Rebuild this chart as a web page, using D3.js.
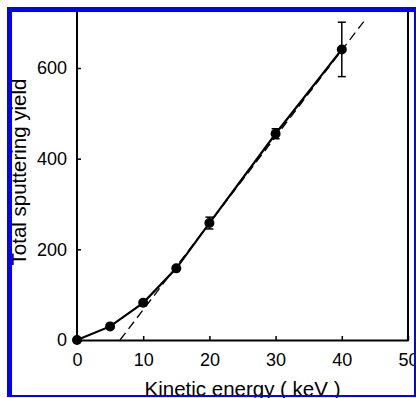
<!DOCTYPE html>
<html>
<head>
<meta charset="utf-8">
<script src="https://cdn.jsdelivr.net/npm/d3@7"></script>
<style>
  body { margin: 0; background: #fff; }
  svg { display: block; }
  text { font-family: "Liberation Sans", Arial, sans-serif; fill: #000; }
</style>
</head>
<body>
<div id="chart"></div>
<script>
// measured values
const energy = [0, 5, 10, 15, 20, 30, 40];
const yieldVals = [0, 30, 82, 158, 258, 455, 641];
const yieldErr = [0, 0, 0, 0, 13, 11, 60];
const fitLine = [[6.5, 0], [43.5, 706]];
const xTicks = [0, 10, 20, 30, 40, 50];
const yTicks = [0, 200, 400, 600];

function drawChart() {
    const width = 416;
    const height = 398;
    const margin = {top: 12, right: 8, bottom: 58, left: 77};

    const svg = d3.select("#chart")
                  .append("svg")
                  .attr("width", width)
                  .attr("height", height);

    const x = d3.scaleLinear()
                .domain([0, 50])
                .range([margin.left, width - margin.right]);
    const y = d3.scaleLinear()
                .domain([0, 600])
                .range([height - margin.bottom, 68]);
    const yBottom = y(0);

    // x axis
    const xAxis = svg.append("g")
       .attr("transform", "translate(0," + yBottom + ")")
       .call(d3.axisBottom(x).tickValues(xTicks).tickSizeInner(-4).tickSizeOuter(0).tickPadding(13));
    xAxis.select(".domain").attr("stroke-width", 2);
    xAxis.selectAll(".tick line").attr("stroke-width", 1.5);
    xAxis.selectAll("text").style("font-size", "18px").attr("font-family", null);

    // y axis
    const yAxis = svg.append("g")
       .attr("transform", "translate(" + margin.left + ",0)")
       .call(d3.axisLeft(y).tickValues(yTicks).tickSizeInner(-4).tickSizeOuter(0).tickPadding(10));
    yAxis.select(".domain").remove();
    yAxis.selectAll(".tick line").attr("stroke-width", 1.5);
    yAxis.selectAll("text").style("font-size", "18px").attr("font-family", null);

    svg.append("line")
       .attr("x1", margin.left).attr("x2", margin.left)
       .attr("y1", margin.top).attr("y2", yBottom + 1)
       .attr("stroke", "#000").attr("stroke-width", 2);
    svg.append("line")
       .attr("x1", x(50)).attr("x2", x(50))
       .attr("y1", margin.top).attr("y2", yBottom + 1)
       .attr("stroke", "#000").attr("stroke-width", 2);

    // dashed fit
    svg.append("path")
       .datum(fitLine)
       .attr("d", d3.line().x(d => x(d[0])).y(d => y(d[1])))
       .attr("fill", "none")
       .attr("stroke", "#000")
       .attr("stroke-width", 1.3)
       .attr("stroke-dasharray", "9,5");

    const pts = energy.map((e, i) => ({e: e, v: yieldVals[i], err: yieldErr[i]}));

    // data line
    svg.append("path")
       .datum(pts)
       .attr("d", d3.line().x(d => x(d.e)).y(d => y(d.v)))
       .attr("fill", "none")
       .attr("stroke", "#000")
       .attr("stroke-width", 2.2);

    // error bars
    const eb = svg.append("g").attr("stroke", "#000").attr("stroke-width", 1.5);
    pts.filter(d => d.err > 0).forEach(function (d) {
        eb.append("line")
          .attr("x1", x(d.e)).attr("x2", x(d.e))
          .attr("y1", y(d.v - d.err)).attr("y2", y(d.v + d.err));
        [d.v - d.err, d.v + d.err].forEach(function (v) {
            eb.append("line")
              .attr("x1", x(d.e) - 4).attr("x2", x(d.e) + 4)
              .attr("y1", y(v)).attr("y2", y(v));
        });
    });

    svg.selectAll("circle.pt")
       .data(pts)
       .enter()
       .append("circle")
       .attr("class", "pt")
       .attr("cx", d => x(d.e))
       .attr("cy", d => y(d.v))
       .attr("r", 5)
       .attr("fill", "#000");

    // axis titles
    svg.append("text")
       .attr("x", (x(0) + x(50)) / 2)
       .attr("y", 396)
       .attr("text-anchor", "middle")
       .style("font-size", "20.5px")
       .text("Kinetic energy ( keV )");
    svg.append("text")
       .attr("transform", "translate(26,172)rotate(-90)")
       .attr("text-anchor", "middle")
       .style("font-size", "20.5px")
       .text("Total sputtering yield");

    // blue frame
    const frame = svg.append("g").attr("fill", "#0000ff");
    frame.append("rect").attr("x", 7).attr("y", 7).attr("width", 5).attr("height", 390);
    frame.append("rect").attr("x", 7).attr("y", 7).attr("width", 409).attr("height", 5);
    frame.append("rect").attr("x", 414).attr("y", 7).attr("width", 2).attr("height", 390);
    frame.append("rect").attr("x", 7).attr("y", 395).attr("width", 409).attr("height", 2);
}

drawChart();
</script>
</body>
</html>
